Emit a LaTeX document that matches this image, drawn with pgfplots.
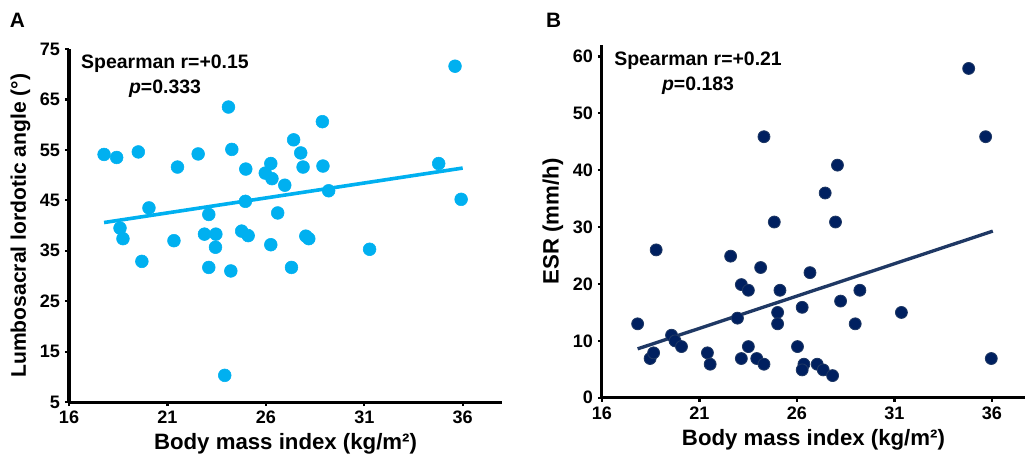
\documentclass[border=0pt]{standalone}
\usepackage{fontspec}
\setmainfont{Liberation Sans}
\usepackage{pgfplots}
\pgfplotsset{compat=1.18}

\definecolor{cyanA}{RGB}{0,176,240}
\definecolor{navyB}{RGB}{0,32,96}
\definecolor{navyL}{RGB}{31,56,100}

\pgfplotsset{
  panel/.style={
    scale only axis,
    axis x line*=bottom, axis y line*=left,
    axis line style={line width=2.2pt, black},
    tick style={line width=1.6pt, black},
    major tick length=3pt,
    tick align=outside,
    xmin=16, xtick={16,21,26,31,36},
    ticklabel style={font=\fontsize{13}{13}\selectfont\bfseries},
    /pgf/number format/assume math mode=true,
    label style={font=\fontsize{16}{16}\selectfont\bfseries},
    clip=false,
  },
}

\begin{document}
\begin{tikzpicture}
\path[use as bounding box] (0,0) rectangle (738pt,333.4pt);

% panel A
\begin{axis}[panel,
  at={(49.7pt,43.9pt)}, anchor=south west,
  width=311.8pt, height=254.2pt,
  xmax=38, ymin=5, ymax=75,
  ytick={5,15,25,35,45,55,65,75},
  xlabel={Body mass index (kg/m²)},
  ylabel={Lumbosacral lordotic angle (°)},
  ylabel style={font=\fontsize{15.2}{15.2}\selectfont\bfseries},
]
\addplot[only marks, mark=*, mark size=4.6pt, cyanA, mark options={draw=cyanA, fill=cyanA}] coordinates {
(17.78,54.1) (18.42,53.5) (19.52,54.6) (18.59,39.5) (18.74,37.4) (19.70,32.9)
(20.06,43.5) (21.51,51.6) (21.33,37.0) (22.56,54.2) (22.88,38.3) (23.10,42.2)
(23.46,38.3) (23.44,35.7) (23.10,31.7) (24.10,63.5) (24.27,55.1) (24.22,31.0)
(23.91,10.3) (24.98,51.2) (24.96,44.8) (24.77,38.9) (25.10,38.0) (26.25,52.3)
(25.97,50.4) (26.31,49.3) (26.96,48.0) (26.60,42.5) (26.25,36.2) (27.30,31.7)
(27.41,57.0) (27.77,54.4) (27.89,51.6) (28.03,37.9) (28.18,37.4) (28.87,60.6)
(28.90,51.8) (29.19,46.9) (31.27,35.3) (34.78,52.3) (35.61,71.6) (35.92,45.2)
};
\addplot[cyanA, line width=2.6pt] coordinates {(17.78,40.6) (36.0,51.4)};
\end{axis}

% panel B
\begin{axis}[panel,
  at={(433.4pt,47.0pt)}, anchor=south west,
  width=304.6pt, height=253.9pt,
  xmax=37.7, ymin=0, ymax=62,
  ytick={0,10,20,30,40,50,60},
  xlabel={Body mass index (kg/m²)},
  ylabel={ESR (mm/h)},
]
\addplot[only marks, mark=*, mark size=4.3pt, mark options={draw=navyL, fill=navyB, line width=0.6pt}] coordinates {
(17.83,13.0) (18.47,6.9) (18.65,7.9) (18.78,26.0) (19.57,11.0) (19.75,10.0)
(20.08,9.0) (21.41,7.9) (21.55,5.9) (22.60,24.9) (22.95,14.0) (23.15,19.9)
(23.51,18.9) (23.51,9.0) (23.15,6.9) (23.94,6.9) (24.31,5.9) (24.14,22.9)
(24.31,45.9) (24.84,30.9) (25.13,18.9) (25.01,15.0) (25.01,13.0) (26.03,9.0)
(26.27,15.9) (26.36,5.9) (26.27,4.9) (26.67,22.0) (27.04,5.9) (27.35,4.9)
(27.45,36.0) (27.83,3.9) (27.98,30.9) (28.08,40.9) (28.24,17.0) (28.99,13.0)
(29.23,18.9) (31.36,15.0) (34.81,57.9) (35.68,45.9) (35.97,6.9)
};
\addplot[navyL, line width=2.4pt] coordinates {(17.83,8.6) (36.05,29.3)};
\end{axis}

% panel letters and statistics
\node[font=\fontsize{15}{15}\selectfont\bfseries] at (12.6pt,318.9pt) {A};
\node[font=\fontsize{15}{15}\selectfont\bfseries] at (398.6pt,318.9pt) {B};
\node[font=\fontsize{14}{17.5}\selectfont\bfseries, align=center] at (118.8pt,278.6pt)
  {Spearman r=+0.15\\\textit{p}=0.333};
\node[font=\fontsize{14}{17.5}\selectfont\bfseries, align=center] at (502.6pt,280.6pt)
  {Spearman r=+0.21\\\textit{p}=0.183};
\end{tikzpicture}
\end{document}
